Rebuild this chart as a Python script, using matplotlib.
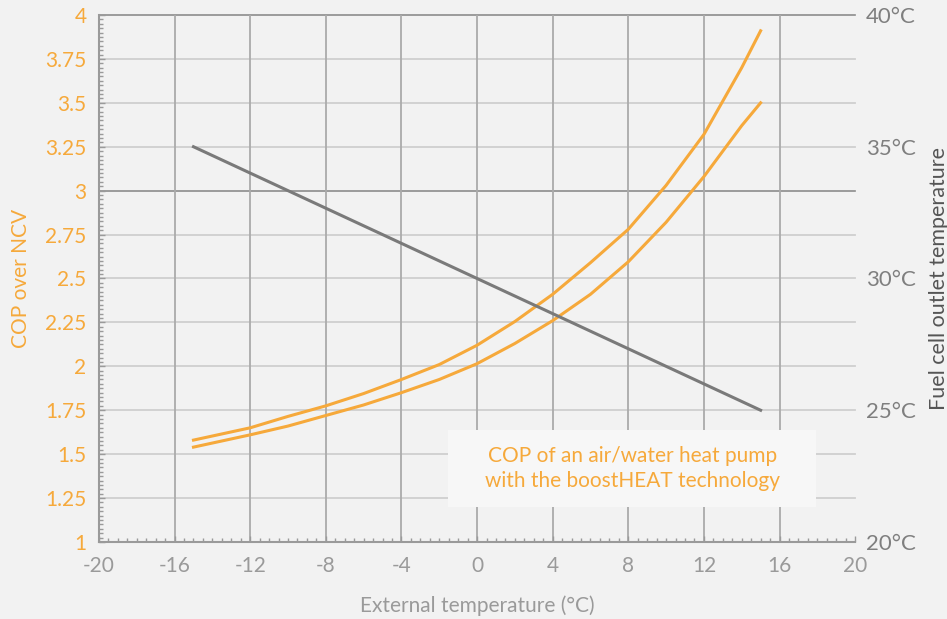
import matplotlib.pyplot as plt
from matplotlib.ticker import MultipleLocator
from matplotlib.patches import Rectangle

# external temperature (degC)
ext_temp = [-15, -12, -10, -8, -6, -4, -2, 0, 2, 4, 6, 8, 10, 12, 14, 15]
# COP curves
cop_upper = [1.58, 1.65, 1.715, 1.775, 1.845, 1.925, 2.01, 2.12, 2.255, 2.41, 2.59, 2.78, 3.03, 3.32, 3.70, 3.91]
cop_lower = [1.54, 1.61, 1.66, 1.72, 1.78, 1.85, 1.925, 2.015, 2.13, 2.26, 2.41, 2.595, 2.82, 3.08, 3.37, 3.50]
# fuel cell outlet temperature (right axis)
fc_x = [-15, 15]
fc_temp = [35, 25]

x_ticks = [-20, -16, -12, -8, -4, 0, 4, 8, 12, 16, 20]
y_ticks = [1, 1.25, 1.5, 1.75, 2, 2.25, 2.5, 2.75, 3, 3.25, 3.5, 3.75, 4]
y_labels = ["1", "1.25", "1.5", "1.75", "2", "2.25", "2.5", "2.75", "3", "3.25", "3.5", "3.75", "4"]
r_ticks = [20, 25, 30, 35, 40]

ORANGE = "#f6a93b"
BG = "#f2f2f2"

plt.rcParams["font.family"] = ["Lato", "DejaVu Sans"]
plt.rcParams["axes.unicode_minus"] = False

fig = plt.figure(figsize=(9.47, 6.19), dpi=100, facecolor=BG)
ax = fig.add_axes([0.1045, 0.1244, 0.7985, 0.8514])
ax.set_facecolor(BG)
ax.set_xlim(-20, 20)
ax.set_ylim(1, 4)

# grid
for v in y_ticks[1:]:
    dark = v in (3, 4)
    ax.axhline(v, color="#8c8c8c" if dark else "#cfcfcf", lw=1.2 if dark else 1.3,
               zorder=1, clip_on=False)
for v in x_ticks[1:-1]:
    ax.axvline(v, color="#ababab", lw=1.3, zorder=1)

# annotation box covering the grid
ax.add_patch(Rectangle((-1.55, 1.2), 19.5, 0.435, facecolor="#f7f7f7",
                       edgecolor="none", zorder=2))
ax.text(8.2, 1.418, "COP of an air/water heat pump\nwith the boostHEAT technology",
        ha="center", va="center", color=ORANGE, fontsize=15,
        linespacing=1.3, zorder=3)

ax.plot(ext_temp, cop_upper, color=ORANGE, lw=2.2, zorder=4)
ax.plot(ext_temp, cop_lower, color=ORANGE, lw=2.2, zorder=4)

for s in ["top", "right"]:
    ax.spines[s].set_visible(False)
for s in ["left", "bottom"]:
    ax.spines[s].set_color("#9a9a9a")
    ax.spines[s].set_linewidth(1.5)

ax.set_xticks(x_ticks)
ax.set_yticks(y_ticks)
ax.set_yticklabels(y_labels)
ax.xaxis.set_minor_locator(MultipleLocator(0.5))
ax.yaxis.set_minor_locator(MultipleLocator(0.025))
ax.tick_params(axis="both", which="both", direction="in", color="#9a9a9a")
ax.tick_params(axis="both", which="minor", length=3, width=1)
ax.tick_params(axis="both", which="major", length=4, width=1)
ax.tick_params(axis="x", labelsize=15, labelcolor="#9a9a9a", pad=10)
ax.tick_params(axis="y", labelsize=15, labelcolor=ORANGE, pad=9)

ax.set_xlabel("External temperature (°C)", fontsize=15, color="#9a9a9a", labelpad=14)
ax.set_ylabel("COP over NCV", fontsize=15, color=ORANGE, labelpad=10)

# right axis
ax2 = ax.twinx()
ax2.set_ylim(20, 40)
ax2.plot(fc_x, fc_temp, color="#7a7a7a", lw=2.2, zorder=5)
for s in ax2.spines.values():
    s.set_visible(False)
ax2.set_yticks(r_ticks)
ax2.set_yticklabels([f"{t}°C" for t in r_ticks])
ax2.tick_params(axis="y", length=0, pad=8, labelsize=16, labelcolor="#7f7f7f")
ax2.set_ylabel("Fuel cell outlet temperature", fontsize=15.5, color="#555555", labelpad=9)

fig.savefig("out.png", dpi=100, facecolor=BG)
